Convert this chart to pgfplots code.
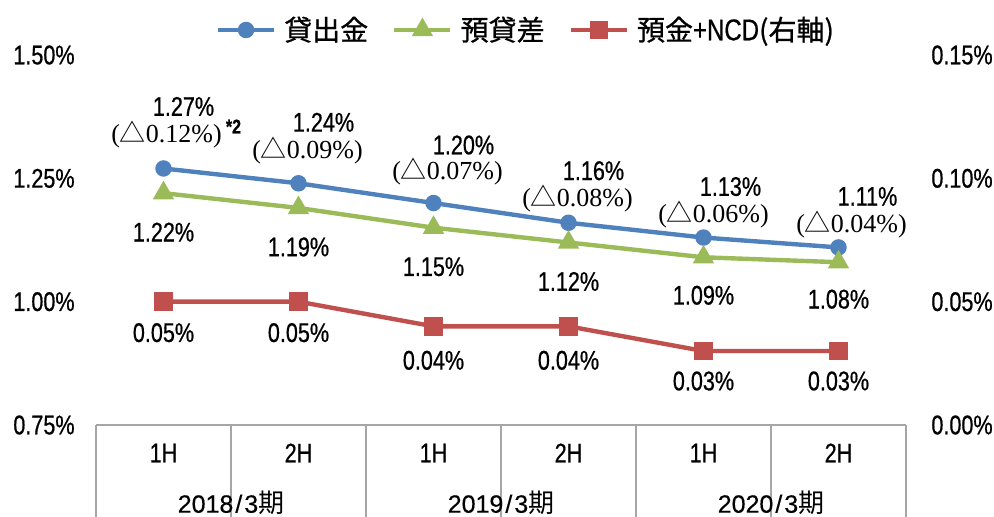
\documentclass[border=0pt]{standalone}
\usepackage{pgfplots}
\pgfplotsset{compat=1.18}
\usepackage{fontspec}
\setmainfont{Liberation Sans}[FakeStretch=0.8, FakeBold=0.6]
\newfontfamily\sansw{Liberation Sans}[FakeBold=0.4]
\newfontfamily\cjk{Noto Sans CJK JP}
\newfontfamily\cjkb{Noto Sans CJK JP}[FakeBold=0.8]
\newfontfamily\serif{Liberation Serif}
\definecolor{cblue}{HTML}{4F81BD}
\definecolor{cgreen}{HTML}{9BBB59}
\definecolor{cred}{HTML}{C0504D}
\definecolor{sep}{HTML}{A6A6A6}
\newcommand\lf{\fontsize{13.5}{15}\selectfont}
\newcommand\dl[1]{{\fontsize{13}{15}\selectfont\serif ({\cjk △}#1\%)}}
\newcommand\yr[1]{{\sansw\fontsize{12.5}{15}\selectfont #1\kern1pt/\kern1pt3{\cjk\fontsize{13}{15}\selectfont 期}}}
\tikzset{every node/.append style={inner sep=0.5pt}}
\pgfplotsset{
  blues/.style={color=cblue, line width=2.2pt, mark=*, mark size=3pt, mark options={solid}},
  greens/.style={color=cgreen, line width=2.2pt, mark=triangle*, mark size=4pt, mark options={solid}},
  reds/.style={color=cred, line width=2.2pt, mark=square*, mark size=3.5pt, mark options={solid}},
  base/.style={at={(0,0)}, anchor=south west, scale only axis, width=405pt, height=185pt,
    xmin=0, xmax=6, xtick=\empty, axis line style={draw=none}, major tick length=0pt, clip=false},
}
\begin{document}
\begin{tikzpicture}
\begin{axis}[base,
  ymin=0.75, ymax=1.5, ytick={0.75,1,1.25,1.5},
  yticklabels={0.75\%,1.00\%,1.25\%,1.50\%}, ytick pos=left,
  yticklabel style={font=\lf, anchor=east, xshift=-10pt}]
% table lines
\draw[sep, line width=0.7pt] (axis cs:0,0.75) -- (axis cs:6,0.75);
\draw[sep, line width=0.7pt] (axis cs:0,0.75) -- ++(0,-46pt);
\draw[sep, line width=0.7pt] (axis cs:2,0.75) -- ++(0,-46pt);
\draw[sep, line width=0.7pt] (axis cs:4,0.75) -- ++(0,-46pt);
\draw[sep, line width=0.7pt] (axis cs:6,0.75) -- ++(0,-46pt);
\draw[sep, line width=0.7pt] (axis cs:1,0.75) -- ++(0,-21pt);
\draw[sep, line width=0.7pt] (axis cs:3,0.75) -- ++(0,-21pt);
\draw[sep, line width=0.7pt] (axis cs:5,0.75) -- ++(0,-21pt);
\node[font=\lf] at (axis cs:0.5,0.75) [yshift=-14pt] {1H};
\node[font=\lf] at (axis cs:1.5,0.75) [yshift=-14pt] {2H};
\node[font=\lf] at (axis cs:2.5,0.75) [yshift=-14pt] {1H};
\node[font=\lf] at (axis cs:3.5,0.75) [yshift=-14pt] {2H};
\node[font=\lf] at (axis cs:4.5,0.75) [yshift=-14pt] {1H};
\node[font=\lf] at (axis cs:5.5,0.75) [yshift=-14pt] {2H};
\node at (axis cs:1,0.75) [yshift=-39pt] {\yr{2018}};
\node at (axis cs:3,0.75) [yshift=-39pt] {\yr{2019}};
\node at (axis cs:5,0.75) [yshift=-39pt] {\yr{2020}};

\addplot[blues] coordinates {(0.5,1.27) (1.5,1.24) (2.5,1.20) (3.5,1.16) (4.5,1.13) (5.5,1.11)};
\addplot[greens] coordinates {(0.5,1.22) (1.5,1.19) (2.5,1.15) (3.5,1.12) (4.5,1.09) (5.5,1.08)};

% blue labels
\node[font=\lf] at (axis cs:0.5,1.27) [xshift=10pt,yshift=31pt] {1.27\%};
\node at (axis cs:0.5,1.27) [xshift=1.5pt,yshift=17pt] {\dl{0.12}};
\node[font=\fontsize{10}{11}\selectfont\bfseries] at (axis cs:0.5,1.27) [xshift=35pt,yshift=21pt] {*2};
\node[font=\lf] at (axis cs:1.5,1.24) [xshift=12.5pt,yshift=30.5pt] {1.24\%};
\node at (axis cs:1.5,1.24) [xshift=4.5pt,yshift=16.5pt] {\dl{0.09}};
\node[font=\lf] at (axis cs:2.5,1.20) [xshift=15pt,yshift=29pt] {1.20\%};
\node at (axis cs:2.5,1.20) [xshift=7pt,yshift=15.5pt] {\dl{0.07}};
\node[font=\lf] at (axis cs:3.5,1.16) [xshift=12.5pt,yshift=26pt] {1.16\%};
\node at (axis cs:3.5,1.16) [xshift=4.5pt,yshift=12pt] {\dl{0.08}};
\node[font=\lf] at (axis cs:4.5,1.13) [xshift=13.5pt,yshift=25.5pt] {1.13\%};
\node at (axis cs:4.5,1.13) [xshift=5pt,yshift=11.5pt] {\dl{0.06}};
\node[font=\lf] at (axis cs:5.5,1.11) [xshift=14.5pt,yshift=25.5pt] {1.11\%};
\node at (axis cs:5.5,1.11) [xshift=6.5pt,yshift=11.5pt] {\dl{0.04}};
% green labels
\node[font=\lf] at (axis cs:0.5,1.22) [yshift=-19.5pt] {1.22\%};
\node[font=\lf] at (axis cs:1.5,1.19) [yshift=-19.5pt] {1.19\%};
\node[font=\lf] at (axis cs:2.5,1.15) [yshift=-19.5pt] {1.15\%};
\node[font=\lf] at (axis cs:3.5,1.12) [yshift=-19.5pt] {1.12\%};
\node[font=\lf] at (axis cs:4.5,1.09) [yshift=-19pt] {1.09\%};
\node[font=\lf] at (axis cs:5.5,1.08) [yshift=-18.5pt] {1.08\%};
\end{axis}

\begin{axis}[base,
  ymin=0, ymax=0.15, ytick={0,0.05,0.1,0.15},
  yticklabels={0.00\%,0.05\%,0.10\%,0.15\%}, yticklabel pos=right, ytick pos=right,
  yticklabel style={font=\lf, anchor=west, xshift=12pt},
  legend columns=3,
  legend style={at={(0.532,1.0676)}, anchor=center, draw=none, fill=none,
    font=\cjkb\fontsize{14}{16}\selectfont, column sep=2pt,
    /tikz/every even column/.append style={column sep=10pt}},
  legend image code/.code={\draw[mark repeat=2,mark phase=2,#1] plot coordinates {(0pt,0pt) (14pt,0pt) (28pt,0pt)};}]
\addlegendimage{blues}
\addlegendentry{貸出金}
\addlegendimage{greens}
\addlegendentry{預貸差}
\addplot[reds] coordinates {(0.5,0.05) (1.5,0.05) (2.5,0.04) (3.5,0.04) (4.5,0.03) (5.5,0.03)};
\addlegendentry{預金{\normalfont\fontsize{15}{16}\selectfont+NCD}(右軸)}
\node[font=\lf] at (axis cs:0.5,0.05) [yshift=-15.5pt] {0.05\%};
\node[font=\lf] at (axis cs:1.5,0.05) [yshift=-15.5pt] {0.05\%};
\node[font=\lf] at (axis cs:2.5,0.04) [yshift=-17pt] {0.04\%};
\node[font=\lf] at (axis cs:3.5,0.04) [yshift=-17pt] {0.04\%};
\node[font=\lf] at (axis cs:4.5,0.03) [yshift=-15pt] {0.03\%};
\node[font=\lf] at (axis cs:5.5,0.03) [yshift=-15pt] {0.03\%};
\end{axis}
\pgfresetboundingbox
\path[use as bounding box] (-48pt,-45.5pt) rectangle (449pt,212.5pt);
\end{tikzpicture}
\end{document}
